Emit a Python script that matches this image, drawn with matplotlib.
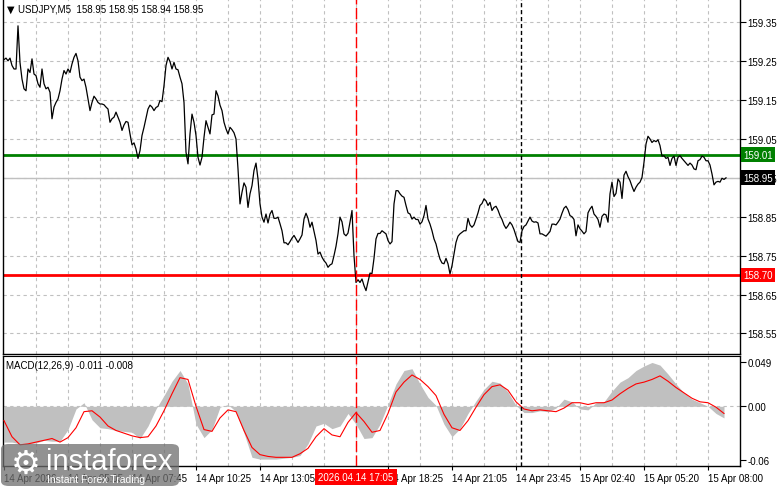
import matplotlib
matplotlib.use("Agg")
import matplotlib.pyplot as plt
import matplotlib.transforms as mtransforms
from matplotlib.patches import FancyBboxPatch
import numpy as np

# USDJPY M5 closes, one per bar
close = [
    159.254, 159.258, 159.251, 159.258, 159.239, 159.230, 159.230, 159.341, 159.247, 159.204,
    159.179, 159.174, 159.230, 159.221, 159.256, 159.217, 159.213, 159.192, 159.183, 159.230,
    159.192, 159.179, 159.183, 159.170, 159.102, 159.132, 159.144, 159.153, 159.174, 159.204,
    159.226, 159.217, 159.230, 159.221, 159.243, 159.260, 159.270, 159.251, 159.209, 159.200,
    159.204, 159.183, 159.153, 159.123, 159.144, 159.160, 159.153, 159.144, 159.140, 159.140,
    159.138, 159.132, 159.127, 159.093, 159.102, 159.106, 159.119, 159.106, 159.093, 159.072,
    159.086, 159.095, 159.093, 159.063, 159.035, 159.040, 159.024, 159.000, 159.020, 159.059,
    159.080, 159.103, 159.127, 159.137, 159.132, 159.123, 159.131, 159.134, 159.149, 159.146,
    159.187, 159.239, 159.260, 159.249, 159.230, 159.247, 159.230, 159.228, 159.209, 159.192,
    159.144, 159.016, 158.986, 159.063, 159.114, 159.093, 159.059, 159.003, 158.983, 159.003,
    159.054, 159.097, 159.080, 159.063, 159.112, 159.114, 159.174, 159.161, 159.137, 159.123,
    159.093, 159.076, 159.063, 159.080, 159.074, 159.066, 159.050, 158.973, 158.883, 158.913,
    158.937, 158.926, 158.874, 158.909, 158.930, 158.969, 158.988, 158.947, 158.883, 158.849,
    158.836, 158.857, 158.834, 158.857, 158.866, 158.846, 158.846, 158.849, 158.832, 158.814,
    158.783, 158.783, 158.778, 158.786, 158.795, 158.802, 158.793, 158.784, 158.793, 158.803,
    158.844, 158.859, 158.846, 158.823, 158.836, 158.812, 158.789, 158.754, 158.759, 158.746,
    158.737, 158.731, 158.720, 158.726, 158.729, 158.750, 158.774, 158.806, 158.849, 158.837,
    158.806, 158.801, 158.808, 158.836, 158.866, 158.750, 158.681, 158.688, 158.681, 158.690,
    158.673, 158.660, 158.683, 158.705, 158.704, 158.743, 158.793, 158.807, 158.807, 158.814,
    158.810, 158.806, 158.789, 158.780, 158.786, 158.883, 158.917, 158.917, 158.909, 158.903,
    158.900, 158.879, 158.860, 158.857, 158.844, 158.849, 158.843, 158.843, 158.831, 158.837,
    158.853, 158.879, 158.844, 158.831, 158.814, 158.793, 158.780, 158.759, 158.741, 158.731,
    158.729, 158.743, 158.729, 158.703, 158.724, 158.754, 158.784, 158.800, 158.806, 158.810,
    158.814, 158.814, 158.846, 158.829, 158.823, 158.829, 158.844, 158.860, 158.879, 158.884,
    158.896, 158.891, 158.879, 158.887, 158.866, 158.874, 158.877, 158.867, 158.853, 158.843,
    158.829, 158.820, 158.827, 158.836, 158.829, 158.817, 158.801, 158.786, 158.784, 158.814,
    158.825, 158.829, 158.839, 158.849, 158.839, 158.836, 158.837, 158.834, 158.806, 158.806,
    158.803, 158.800, 158.806, 158.812, 158.831, 158.831, 158.829, 158.836, 158.844, 158.859,
    158.872, 158.877, 158.868, 158.853, 158.850, 158.843, 158.801, 158.829, 158.819, 158.813,
    158.806, 158.812, 158.860, 158.870, 158.877, 158.857, 158.851, 158.843, 158.823, 158.851,
    158.857, 158.855, 158.836, 158.909, 158.939, 158.902, 158.910, 158.947, 158.939, 158.897,
    158.957, 158.967, 158.953, 158.943, 158.928, 158.915, 158.926, 158.934, 158.939, 158.951,
    158.990, 159.037, 159.057, 159.050, 159.041, 159.046, 159.043, 159.048, 159.033, 159.006,
    159.007, 159.000, 159.003, 158.982, 159.000, 159.006, 158.982, 159.003, 159.007, 159.000,
    158.994, 158.988, 158.982, 158.988, 158.983, 158.973, 158.971, 158.994, 158.997, 159.006,
    159.003, 158.994, 158.994, 158.983, 158.960, 158.932, 158.939, 158.941, 158.939, 158.949,
    158.946, 158.950,
]

# MACD main (histogram) and signal, sampled every 4th bar
macd_bar = list(range(0, 361, 4))
macd_hist = [
    -0.040, -0.040, -0.042, -0.042, -0.041, -0.038, -0.039, -0.039, -0.026, -0.003,
    0.004, -0.015, -0.024, -0.025, -0.027, -0.028, -0.029, -0.036, -0.022, -0.003,
    0.012, 0.028, 0.040, 0.025, -0.020, -0.035, -0.026, -0.001, 0.002, -0.006,
    -0.030, -0.057, -0.059, -0.059, -0.059, -0.058, -0.057, -0.055, -0.042, -0.022,
    -0.019, -0.025, -0.022, -0.008, -0.020, -0.036, -0.035, -0.020, 0.002, 0.025,
    0.040, 0.042, 0.025, 0.010, 0.001, -0.020, -0.034, -0.025, -0.008, 0.006,
    0.019, 0.028, 0.026, 0.016, 0.001, -0.007, -0.007, -0.005, -0.006, -0.002,
    0.008, 0.005, -0.003, -0.004, 0.004, 0.005, 0.017, 0.027, 0.032, 0.040,
    0.045, 0.049, 0.046, 0.036, 0.025, 0.015, 0.008, 0.004, 0.000, -0.008,
    -0.013,
]
macd_signal = [
    -0.016, -0.034, -0.043, -0.042, -0.040, -0.038, -0.036, -0.040, -0.035, -0.024,
    -0.006, -0.005, -0.012, -0.022, -0.027, -0.030, -0.033, -0.035, -0.034, -0.022,
    -0.005, 0.014, 0.032, 0.030, 0.000, -0.026, -0.028, -0.013, -0.004, -0.006,
    -0.027, -0.046, -0.054, -0.056, -0.057, -0.057, -0.057, -0.053, -0.047, -0.034,
    -0.025, -0.032, -0.034, -0.018, -0.007, -0.017, -0.029, -0.027, -0.008, 0.016,
    0.027, 0.035, 0.030, 0.022, 0.012, -0.009, -0.024, -0.027, -0.016, -0.001,
    0.013, 0.022, 0.024, 0.018, 0.005, -0.003, -0.005, -0.004, -0.005, -0.006,
    -0.002, 0.004, 0.004, 0.002, 0.004, 0.004, 0.007, 0.014, 0.020, 0.025,
    0.027, 0.030, 0.034, 0.028, 0.021, 0.015, 0.009, 0.005, 0.004, -0.001,
    -0.008,
]

price_ticks = [158.55, 158.65, 158.75, 158.85, 158.95, 159.05, 159.15, 159.25, 159.35]
time_ticks = [0, 32, 64, 96, 128, 192, 224, 256, 288, 320, 352]
time_labels = ["14 Apr 2026", "14 Apr 05:05", "14 Apr 07:45", "14 Apr 10:25", "14 Apr 13:05",
               "14 Apr 18:25", "14 Apr 21:05", "14 Apr 23:45", "15 Apr 02:40",
               "15 Apr 05:20", "15 Apr 08:00"]
resistance = 159.01
support = 158.70
bid = 158.95
cross_bar = 176
cross_label = "2026.04.14 17:05"
period_bar = 258.75

W, H = 781, 489
plt.rcParams['font.family'] = ['Liberation Sans', 'DejaVu Sans']

def px(x0, y0, x1, y1):
    return [x0 / W, 1 - y1 / H, (x1 - x0) / W, (y1 - y0) / H]

fig = plt.figure(figsize=(W / 100, H / 100), dpi=100)
ax = fig.add_axes(px(3, 0, 740, 355))
ax2 = fig.add_axes(px(3, 357, 740, 467), sharex=ax)

grid_kw = dict(color='#c0c0c0', lw=0.8, ls=(0, (3, 3)))
vgrid = list(range(16, 368, 16))
for a in (ax, ax2):
    for v in vgrid:
        a.axvline(v, zorder=0, **grid_kw)
for p in price_ticks:
    ax.axhline(p, zorder=0, **grid_kw)
ax2.axhline(0, zorder=0, **grid_kw)

bars = np.arange(len(close))
ax.axhline(bid, color='#c0c0c0', lw=1, zorder=1)
ax.axhline(resistance, color='#008000', lw=2, zorder=2)
ax.axhline(support, color='#ff0000', lw=2, zorder=2)
ax.plot(bars, close, color='black', lw=0.9, zorder=3)

ax2.fill_between(macd_bar, 0, macd_hist, color='#c0c0c0', lw=0, zorder=1)
ax2.plot(macd_bar, macd_signal, color='red', lw=0.8, zorder=3)

for a in (ax, ax2):
    a.axvline(cross_bar, color='red', lw=1, ls=(0, (8, 2.5)), zorder=4)
    a.axvline(period_bar, color='black', lw=1, ls=(0, (3, 2)), zorder=4)

ax.set_xlim(-0.5, 368)
ax.set_ylim(158.497, 159.410)
ax2.set_ylim(-0.0667, 0.0562)

for a in (ax, ax2):
    a.spines['top'].set_visible(False)
    for s in ('left', 'right', 'bottom'):
        a.spines[s].set_color('black')
        a.spines[s].set_linewidth(1)
    a.yaxis.tick_right()
    a.tick_params(axis='y', length=4, width=0.8, labelsize=7, pad=1.5, colors='black')
ax2.spines['top'].set_visible(True)

ax.set_yticks(price_ticks)
ax.set_yticklabels([f"{p:.2f}" for p in price_ticks])
ax.tick_params(axis='x', bottom=False, labelbottom=False)

ax2.set_yticks([-0.06, 0.0, 0.049])
ax2.set_yticklabels(["-0.06", "0.00", "0.049"])
ax2.set_xticks(time_ticks)
ax2.set_xticklabels(time_labels)
ax2.tick_params(axis='x', length=3, width=0.8, labelsize=7, pad=2)
for lbl in ax2.get_xticklabels():
    lbl.set_ha('left')

# price tags on the right scale
tr = mtransforms.blended_transform_factory(ax.transAxes, ax.transData)
for val, col in ((resistance, '#008000'), (bid, 'black'), (support, '#ff0000')):
    ax.text(1.004, val, f"{val:.2f}", transform=tr, ha='left', va='center', fontsize=7,
            color='white', zorder=10, clip_on=False,
            bbox=dict(boxstyle='square,pad=0.25', fc=col, ec='none'))

tr2 = mtransforms.blended_transform_factory(ax2.transData, ax2.transAxes)
ax2.text(cross_bar, -0.1, cross_label, transform=tr2, ha='center', va='center', fontsize=7,
         color='white', zorder=10, clip_on=False,
         bbox=dict(boxstyle='square,pad=0.3', fc='#ff0000', ec='none'))

fig.text(7 / W, 1 - 10 / H, "\u25bc", fontsize=7, va='center', ha='left', color='black',
         family='DejaVu Sans')
fig.text(18 / W, 1 - 10 / H, "USDJPY,M5  158.95 158.95 158.94 158.95", fontsize=7,
         va='center', ha='left', color='#000000')
fig.text(6 / W, 1 - 366 / H, "MACD(12,26,9) -0.011 -0.008", fontsize=7,
         va='center', ha='left', color='black')

# watermark
logo = FancyBboxPatch((1 / W, 1 - 487 / H), 178 / W, 42 / H,
                      boxstyle='round,pad=0,rounding_size=0.01', transform=fig.transFigure,
                      fc='#6e6e6e', ec='none', alpha=0.75, zorder=20)
fig.patches.append(logo)
fig.text(26 / W, 1 - 464 / H, "\u2699", fontsize=24, color='white', ha='center', va='center',
         family='DejaVu Sans', zorder=21)
fig.text(46 / W, 1 - 462 / H, "instaforex", fontsize=21, color='white', ha='left',
         va='center', zorder=21)
fig.text(47 / W, 1 - 480 / H, "Instant Forex Trading", fontsize=7.5, color='white',
         ha='left', va='center', zorder=21)

fig.savefig("out.png", dpi=100)
